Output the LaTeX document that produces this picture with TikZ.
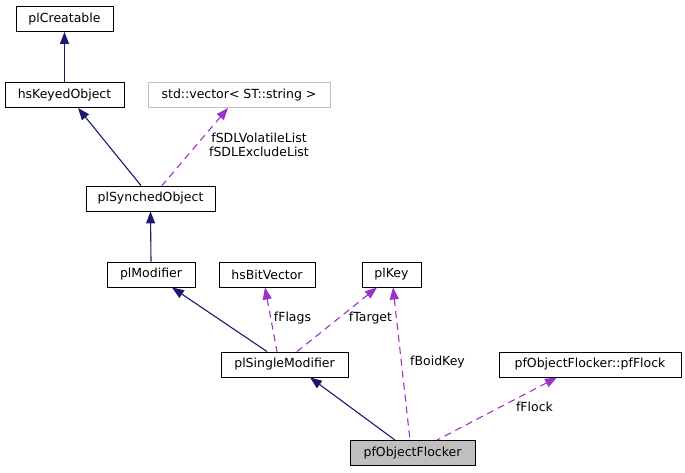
\documentclass[tikz,border=0pt]{standalone}
\usepackage{fontspec}
\setmainfont{DejaVu Sans}
\usetikzlibrary{arrows.meta}
\definecolor{edgeblue}{HTML}{191970}
\definecolor{edgepurple}{HTML}{9A32CD}
\definecolor{grey75}{HTML}{BFBFBF}
\begin{document}
\begin{tikzpicture}[x=1pt,y=-1pt,
  box/.style={draw=black,line width=0.9pt,fill=white,minimum height=25pt,inner sep=0pt,font=\fontsize{12.5}{14}\selectfont},
  lbl/.style={inner sep=0pt,font=\fontsize{12.5}{14}\selectfont,align=center},
  inh/.style={draw=edgeblue,line width=1.1pt,{Triangle[length=12pt,width=9pt]}-},
  dep/.style={draw=edgepurple,line width=1.1pt,dash pattern=on 7pt off 5pt,{Triangle[length=12pt,width=9pt,fill=edgepurple]}-}]
\useasboundingbox (0,0) rectangle (685,472);
\node[box,minimum width=97pt] (cre) at (64.5,19) {plCreatable};
\node[box,minimum width=119pt] (hko) at (64.5,95) {hsKeyedObject};
\node[box,minimum width=182pt,draw=grey75] (vec) at (239,95) {std::vector< ST::string >};
\node[box,minimum width=129pt] (syn) at (150.5,198.5) {plSynchedObject};
\node[box,minimum width=88pt] (mod) at (151,274.5) {plModifier};
\node[box,minimum width=96pt] (bit) at (267,274.5) {hsBitVector};
\node[box,minimum width=59pt] (key) at (391.5,274.5) {plKey};
\node[box,minimum width=127pt] (sgl) at (284.5,364.5) {plSingleModifier};
\node[box,minimum width=182pt] (flk) at (590,364.5) {pfObjectFlocker::pfFlock};
\node[box,minimum width=125pt,fill=grey75] (pfo) at (412.5,453) {pfObjectFlocker};

\draw[inh] (cre.south) -- (hko.north);
\draw[inh] ([xshift=13.5pt]hko.south) -- ([xshift=-9.5pt]syn.north);
\draw[dep] ([xshift=-11pt]vec.south) -- ([xshift=11.5pt]syn.north);
\draw[inh] (syn.south) -- (mod.north);
\draw[inh] ([xshift=21pt]mod.south) -- ([xshift=-17.5pt]sgl.north);
\draw[dep] ([xshift=-2pt]bit.south) -- ([xshift=-7.5pt]sgl.north);
\draw[dep] ([xshift=-14.5pt]key.south) -- ([xshift=12.5pt]sgl.north);
\draw[dep] ([xshift=1.5pt]key.south) -- ([xshift=-2.5pt]pfo.north);
\draw[dep] ([xshift=-33pt]flk.south) -- ([xshift=24.5pt]pfo.north);
\draw[inh] ([xshift=25.5pt]sgl.south) -- ([xshift=-17.5pt]pfo.north);

\node[lbl] (l1) at (259,145) {fSDLVolatileList\\fSDLExcludeList};
\node[lbl] (l2) at (292.5,318) {fFlags};
\node[lbl] (l3) at (370.5,318) {fTarget};
\node[lbl] (l4) at (437.5,362) {fBoidKey};
\node[lbl] (l5) at (534.5,407) {fFlock};
\end{tikzpicture}
\end{document}
